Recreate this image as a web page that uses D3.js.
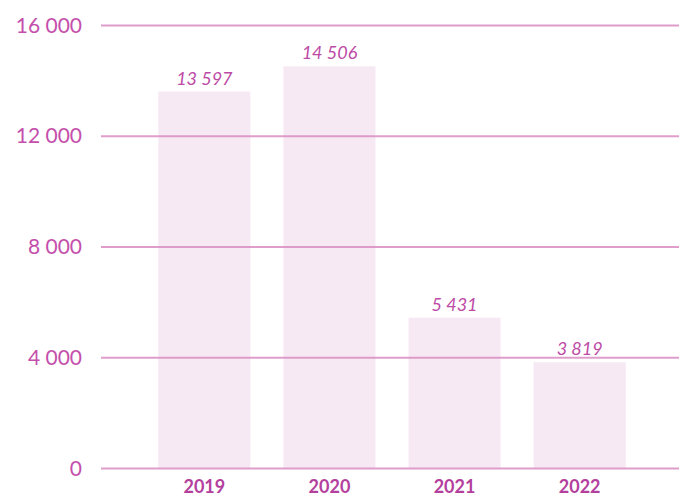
<!DOCTYPE html>
<html>
<head>
<meta charset="utf-8">
<script src="https://cdn.jsdelivr.net/npm/d3@7"></script>
<style>
  body { margin: 0; background: #fff; }
  svg { display: block; font-family: Lato, "Open Sans", sans-serif; }
</style>
</head>
<body>
<div id="chart"></div>
<script>
// Données
const years = ["2019", "2020", "2021", "2022"];
const values = [13597, 14506, 5431, 3819];
const yTicks = [0, 4000, 8000, 12000, 16000];

const W = 679, H = 496;
const fmt = d3.formatLocale({ decimal: ",", thousands: "\u00a0", grouping: [3], currency: ["", ""] }).format(",d");

const svg = d3.select("#chart").append("svg")
    .attr("width", W)
    .attr("height", H);

// Échelles
const x = d3.scaleBand()
    .domain(years)
    .range([102, 682])
    .paddingInner(0.264)
    .paddingOuter(0.45);

const y = d3.scaleLinear()
    .domain([0, 16000])
    .range([468, 25]);

const data = years.map((d, i) => ({ year: d, value: values[i] }));

// Barres
svg.selectAll(".bar")
    .data(data)
    .enter()
    .append("rect")
    .attr("x", d => x(d.year))
    .attr("y", d => y(d.value))
    .attr("width", x.bandwidth())
    .attr("height", d => y(0) - y(d.value))
    .attr("fill", "#f6e9f3");

// Grille (par-dessus les barres)
svg.append("g")
    .attr("transform", "translate(101,0)")
    .call(d3.axisLeft(y).tickValues(yTicks).tickSize(-(W - 101)).tickFormat(""))
    .call(g => g.select(".domain").remove())
    .call(g => g.selectAll("line").attr("stroke", "#dc92c5").attr("stroke-width", 2).attr("stroke-opacity", 0.9));

// Labels de l'axe Y
svg.selectAll(".ytick")
    .data(yTicks)
    .enter()
    .append("text")
    .attr("x", 82)
    .attr("y", d => y(d))
    .attr("dy", "0.36em")
    .attr("text-anchor", "end")
    .attr("fill", "#c44fab")
    .style("font-size", "21px")
    .style("font-weight", 400)
    .text(d => fmt(d));

// Valeurs au-dessus des barres
svg.selectAll(".val")
    .data(data)
    .enter()
    .append("text")
    .attr("x", d => x(d.year) + x.bandwidth() / 2)
    .attr("y", d => y(d.value) - 7)
    .attr("text-anchor", "middle")
    .attr("fill", "#bd4aa5")
    .style("font-size", "18px")
    .style("font-style", "italic")
    .text(d => fmt(d.value));

// Années
svg.selectAll(".year")
    .data(data)
    .enter()
    .append("text")
    .attr("x", d => x(d.year) + x.bandwidth() / 2)
    .attr("y", 493)
    .attr("text-anchor", "middle")
    .attr("fill", "#b4409e")
    .style("font-size", "18px")
    .style("font-weight", "bold")
    .text(d => d.year);
</script>
</body>
</html>
